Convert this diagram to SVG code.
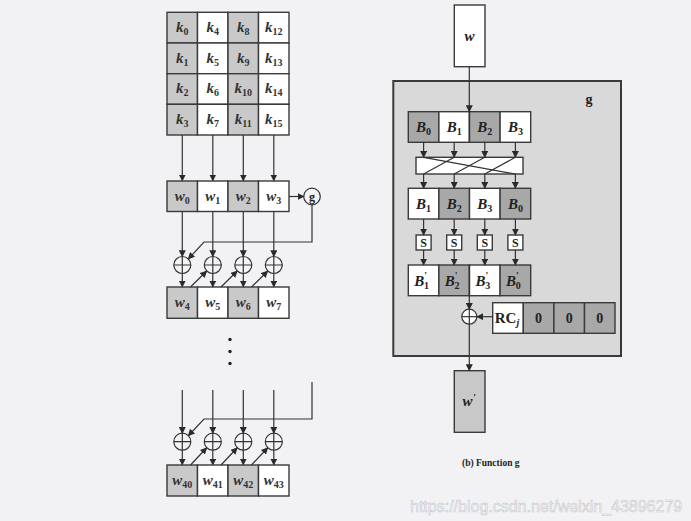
<svg xmlns="http://www.w3.org/2000/svg" width="691" height="521" viewBox="0 0 691 521">
<defs>
<marker id="ah" markerWidth="7" markerHeight="7" refX="6" refY="3.5" orient="auto" markerUnits="userSpaceOnUse">
<path d="M0,0 L7,3.5 L0,7 Z" fill="#2a2a2a"/>
</marker>
<style>
.cell{stroke:#3a3a3a;stroke-width:1.4}
.lg{fill:#c9c9c9}
.dg{fill:#a8a8a8}
.wh{fill:#ffffff}
.ln{stroke:#333;stroke-width:1.2;fill:none}
.ar{stroke:#333;stroke-width:1.2;fill:none;marker-end:url(#ah)}
.xor{stroke:#333;stroke-width:1.2;fill:#f4f4f6}
.t{font-family:"Liberation Serif",serif;font-size:15px;font-style:italic;font-weight:bold;fill:#333;text-anchor:middle}
.tb{font-family:"Liberation Serif",serif;font-size:15px;font-style:italic;font-weight:bold;fill:#222;text-anchor:middle}
.sub{font-style:normal;font-size:10px}
.s{font-family:"Liberation Serif",serif;font-size:12px;font-weight:bold;fill:#222;text-anchor:middle}
</style>
</defs>
<rect x="0" y="0" width="691" height="521" fill="#f2f2f4"/>

<!-- Key grid -->
<g id="keygrid">
<rect class="cell lg" x="167" y="12.3" width="30.5" height="30.7"/>
<rect class="cell wh" x="197.5" y="12.3" width="30.5" height="30.7"/>
<rect class="cell lg" x="228" y="12.3" width="30.5" height="30.7"/>
<rect class="cell wh" x="258.5" y="12.3" width="30.5" height="30.7"/>
<rect class="cell lg" x="167" y="43" width="30.5" height="30.7"/>
<rect class="cell wh" x="197.5" y="43" width="30.5" height="30.7"/>
<rect class="cell lg" x="228" y="43" width="30.5" height="30.7"/>
<rect class="cell wh" x="258.5" y="43" width="30.5" height="30.7"/>
<rect class="cell lg" x="167" y="73.7" width="30.5" height="30.6"/>
<rect class="cell wh" x="197.5" y="73.7" width="30.5" height="30.6"/>
<rect class="cell lg" x="228" y="73.7" width="30.5" height="30.6"/>
<rect class="cell wh" x="258.5" y="73.7" width="30.5" height="30.6"/>
<rect class="cell lg" x="167" y="104.3" width="30.5" height="30.7"/>
<rect class="cell wh" x="197.5" y="104.3" width="30.5" height="30.7"/>
<rect class="cell lg" x="228" y="104.3" width="30.5" height="30.7"/>
<rect class="cell wh" x="258.5" y="104.3" width="30.5" height="30.7"/>
<text class="t" x="182.3" y="32">k<tspan class="sub" dy="3">0</tspan></text>
<text class="t" x="212.8" y="32">k<tspan class="sub" dy="3">4</tspan></text>
<text class="t" x="243.3" y="32">k<tspan class="sub" dy="3">8</tspan></text>
<text class="t" x="273.8" y="32">k<tspan class="sub" dy="3">12</tspan></text>
<text class="t" x="182.3" y="62.5">k<tspan class="sub" dy="3">1</tspan></text>
<text class="t" x="212.8" y="62.5">k<tspan class="sub" dy="3">5</tspan></text>
<text class="t" x="243.3" y="62.5">k<tspan class="sub" dy="3">9</tspan></text>
<text class="t" x="273.8" y="62.5">k<tspan class="sub" dy="3">13</tspan></text>
<text class="t" x="182.3" y="93">k<tspan class="sub" dy="3">2</tspan></text>
<text class="t" x="212.8" y="93">k<tspan class="sub" dy="3">6</tspan></text>
<text class="t" x="243.3" y="93">k<tspan class="sub" dy="3">10</tspan></text>
<text class="t" x="273.8" y="93">k<tspan class="sub" dy="3">14</tspan></text>
<text class="t" x="182.3" y="123.5">k<tspan class="sub" dy="3">3</tspan></text>
<text class="t" x="212.8" y="123.5">k<tspan class="sub" dy="3">7</tspan></text>
<text class="t" x="243.3" y="123.5">k<tspan class="sub" dy="3">11</tspan></text>
<text class="t" x="273.8" y="123.5">k<tspan class="sub" dy="3">15</tspan></text>
</g>

<g id="wrow0">
<rect class="cell lg" x="167" y="181" width="30.5" height="30.5"/>
<rect class="cell wh" x="197.5" y="181" width="30.5" height="30.5"/>
<rect class="cell lg" x="228" y="181" width="30.5" height="30.5"/>
<rect class="cell wh" x="258.5" y="181" width="30.5" height="30.5"/>
<text class="t" x="182.3" y="200.5">w<tspan class="sub" dy="3">0</tspan></text>
<text class="t" x="212.8" y="200.5">w<tspan class="sub" dy="3">1</tspan></text>
<text class="t" x="243.3" y="200.5">w<tspan class="sub" dy="3">2</tspan></text>
<text class="t" x="273.8" y="200.5">w<tspan class="sub" dy="3">3</tspan></text>
</g>

<g id="gcircle">
<circle class="xor" cx="312" cy="196.5" r="8.3"/>
<text class="s" x="312" y="200.5" style="font-size:12px">g</text>
</g>

<g id="xors1">
<g><circle class="xor" cx="182.3" cy="265" r="8.5"/><path class="ln" d="M173.8,265 H190.8 M182.3,256.5 V273.5"/></g>
<g><circle class="xor" cx="212.8" cy="265" r="8.5"/><path class="ln" d="M204.3,265 H221.3 M212.8,256.5 V273.5"/></g>
<g><circle class="xor" cx="243.3" cy="265" r="8.5"/><path class="ln" d="M234.8,265 H251.8 M243.3,256.5 V273.5"/></g>
<g><circle class="xor" cx="273.8" cy="265" r="8.5"/><path class="ln" d="M265.3,265 H282.3 M273.8,256.5 V273.5"/></g>
</g>

<g id="wrow1">
<rect class="cell lg" x="167" y="287" width="30.5" height="31.3"/>
<rect class="cell wh" x="197.5" y="287" width="30.5" height="31.3"/>
<rect class="cell lg" x="228" y="287" width="30.5" height="31.3"/>
<rect class="cell wh" x="258.5" y="287" width="30.5" height="31.3"/>
<text class="t" x="182.3" y="306.5">w<tspan class="sub" dy="3">4</tspan></text>
<text class="t" x="212.8" y="306.5">w<tspan class="sub" dy="3">5</tspan></text>
<text class="t" x="243.3" y="306.5">w<tspan class="sub" dy="3">6</tspan></text>
<text class="t" x="273.8" y="306.5">w<tspan class="sub" dy="3">7</tspan></text>
</g>

<g id="dots" fill="#222">
<circle cx="230" cy="339.5" r="1.7"/>
<circle cx="230" cy="351.5" r="1.7"/>
<circle cx="230" cy="363.5" r="1.7"/>
</g>

<g id="xors2">
<g><circle class="xor" cx="182.3" cy="441.7" r="8.5"/><path class="ln" d="M173.8,441.7 H190.8 M182.3,433.2 V450.2"/></g>
<g><circle class="xor" cx="212.8" cy="441.7" r="8.5"/><path class="ln" d="M204.3,441.7 H221.3 M212.8,433.2 V450.2"/></g>
<g><circle class="xor" cx="243.3" cy="441.7" r="8.5"/><path class="ln" d="M234.8,441.7 H251.8 M243.3,433.2 V450.2"/></g>
<g><circle class="xor" cx="273.8" cy="441.7" r="8.5"/><path class="ln" d="M265.3,441.7 H282.3 M273.8,433.2 V450.2"/></g>
</g>

<g id="wrow10">
<rect class="cell lg" x="167" y="465" width="30.5" height="31"/>
<rect class="cell wh" x="197.5" y="465" width="30.5" height="31"/>
<rect class="cell lg" x="228" y="465" width="30.5" height="31"/>
<rect class="cell wh" x="258.5" y="465" width="30.5" height="31"/>
<text class="t" x="182.3" y="484.5">w<tspan class="sub" dy="3">40</tspan></text>
<text class="t" x="212.8" y="484.5">w<tspan class="sub" dy="3">41</tspan></text>
<text class="t" x="243.3" y="484.5">w<tspan class="sub" dy="3">42</tspan></text>
<text class="t" x="273.8" y="484.5">w<tspan class="sub" dy="3">43</tspan></text>
</g>

<!-- Function g -->
<g id="wbox">
<rect class="cell wh" x="454.3" y="5" width="30.7" height="61.7"/>
<text class="tb" x="469.6" y="41">w</text>
</g>

<g id="gbox">
<rect x="393.3" y="81" width="227.7" height="275" fill="#d9d9d9" stroke="#3a3a3a" stroke-width="2"/>
<text class="s" x="589" y="104" style="font-size:14px">g</text>
</g>

<g id="brow1">
<rect class="cell dg" x="408.3" y="111.7" width="30.6" height="30.6"/>
<rect class="cell wh" x="438.9" y="111.7" width="30.6" height="30.6"/>
<rect class="cell dg" x="469.5" y="111.7" width="30.6" height="30.6"/>
<rect class="cell wh" x="500.1" y="111.7" width="30.6" height="30.6"/>
<text class="tb" x="423.6" y="132">B<tspan class="sub" dy="3">0</tspan></text>
<text class="tb" x="454.2" y="132">B<tspan class="sub" dy="3">1</tspan></text>
<text class="tb" x="484.8" y="132">B<tspan class="sub" dy="3">2</tspan></text>
<text class="tb" x="515.4" y="132">B<tspan class="sub" dy="3">3</tspan></text>
</g>

<g id="shift">
<rect x="416" y="157.3" width="107" height="16.7" fill="#ffffff" stroke="#3a3a3a" stroke-width="1.4"/>
<path class="ln" d="M423.6,157.3 L515.4,174 M454.2,157.3 L423.6,174 M484.8,157.3 L454.2,174 M515.4,157.3 L484.8,174"/>
</g>

<g id="brow2">
<rect class="cell wh" x="408.3" y="188.3" width="30.6" height="30.7"/>
<rect class="cell dg" x="438.9" y="188.3" width="30.6" height="30.7"/>
<rect class="cell wh" x="469.5" y="188.3" width="30.6" height="30.7"/>
<rect class="cell dg" x="500.1" y="188.3" width="30.6" height="30.7"/>
<text class="tb" x="423.6" y="208.5">B<tspan class="sub" dy="3">1</tspan></text>
<text class="tb" x="454.2" y="208.5">B<tspan class="sub" dy="3">2</tspan></text>
<text class="tb" x="484.8" y="208.5">B<tspan class="sub" dy="3">3</tspan></text>
<text class="tb" x="515.4" y="208.5">B<tspan class="sub" dy="3">0</tspan></text>
</g>

<g id="sboxes">
<rect class="cell wh" x="416.1" y="235" width="15" height="15"/>
<rect class="cell wh" x="446.7" y="235" width="15" height="15"/>
<rect class="cell wh" x="477.3" y="235" width="15" height="15"/>
<rect class="cell wh" x="507.9" y="235" width="15" height="15"/>
<text class="s" x="423.6" y="246.5">S</text>
<text class="s" x="454.2" y="246.5">S</text>
<text class="s" x="484.8" y="246.5">S</text>
<text class="s" x="515.4" y="246.5">S</text>
</g>

<g id="brow3">
<rect class="cell wh" x="408.3" y="265" width="30.6" height="30.7"/>
<rect class="cell dg" x="438.9" y="265" width="30.6" height="30.7"/>
<rect class="cell wh" x="469.5" y="265" width="30.6" height="30.7"/>
<rect class="cell dg" x="500.1" y="265" width="30.6" height="30.7"/>
<text class="tb" x="421.6" y="285.5">B<tspan class="sub" dy="-7" font-size="8">'</tspan><tspan class="sub" dx="-3" dy="10">1</tspan></text>
<text class="tb" x="452.2" y="285.5">B<tspan class="sub" dy="-7" font-size="8">'</tspan><tspan class="sub" dx="-3" dy="10">2</tspan></text>
<text class="tb" x="482.8" y="285.5">B<tspan class="sub" dy="-7" font-size="8">'</tspan><tspan class="sub" dx="-3" dy="10">3</tspan></text>
<text class="tb" x="513.4" y="285.5">B<tspan class="sub" dy="-7" font-size="8">'</tspan><tspan class="sub" dx="-3" dy="10">0</tspan></text>
</g>

<g id="gxor">
<circle cx="469.3" cy="316.7" r="7.5" fill="#ffffff" stroke="#333" stroke-width="1.2"/>
<path class="ln" d="M461.8,316.7 H476.8"/>
</g>

<g id="rcbox">
<rect class="cell wh" x="492.7" y="302.7" width="30.6" height="30.6"/>
<rect class="cell dg" x="523.3" y="302.7" width="30.6" height="30.6"/>
<rect class="cell dg" x="553.9" y="302.7" width="30.6" height="30.6"/>
<rect class="cell dg" x="584.5" y="302.7" width="30.5" height="30.6"/>
<text class="s" x="507" y="322.5" style="font-size:15px">RC<tspan font-size="10" font-style="italic" dy="3">j</tspan></text>
<text class="s" x="538.6" y="322.5" style="font-size:14px">0</text>
<text class="s" x="569.2" y="322.5" style="font-size:14px">0</text>
<text class="s" x="599.8" y="322.5" style="font-size:14px">0</text>
</g>

<g id="wprime">
<rect x="454.3" y="370.7" width="30.7" height="61.6" fill="#c8c8c8" stroke="#3a3a3a" stroke-width="1.4"/>
<text class="tb" x="469" y="406">w<tspan font-size="11" dy="-5">'</tspan></text>
</g>

<g id="caption">
<text x="462" y="466" style="font-family:'Liberation Serif',serif;font-size:9.5px;font-weight:bold;fill:#222">(b) Function g</text>
</g>

<g id="connectors">
<line class="ar" x1="182.3" y1="135" x2="182.3" y2="180.5"/>
<line class="ar" x1="212.8" y1="135" x2="212.8" y2="180.5"/>
<line class="ar" x1="243.3" y1="135" x2="243.3" y2="180.5"/>
<line class="ar" x1="273.8" y1="135" x2="273.8" y2="180.5"/>
<line class="ar" x1="289" y1="196.5" x2="303.5" y2="196.5"/>
<line class="ar" x1="182.3" y1="211.5" x2="182.3" y2="256.3"/>
<line class="ar" x1="212.8" y1="211.5" x2="212.8" y2="256.3"/>
<line class="ar" x1="243.3" y1="211.5" x2="243.3" y2="256.3"/>
<line class="ar" x1="273.8" y1="211.5" x2="273.8" y2="256.3"/>
<polyline class="ar" points="312,204.8 312,242 204,242 188.5,258.8"/>
<line class="ar" x1="182.3" y1="273.5" x2="182.3" y2="286.6"/>
<line class="ar" x1="212.8" y1="273.5" x2="212.8" y2="286.6"/>
<line class="ar" x1="243.3" y1="273.5" x2="243.3" y2="286.6"/>
<line class="ar" x1="273.8" y1="273.5" x2="273.8" y2="286.6"/>
<line class="ar" x1="190.5" y1="287" x2="206.5" y2="271.3"/>
<line class="ar" x1="221" y1="287" x2="237" y2="271.3"/>
<line class="ar" x1="251.5" y1="287" x2="267.5" y2="271.3"/>
<line class="ar" x1="182.3" y1="390" x2="182.3" y2="433"/>
<line class="ar" x1="212.8" y1="390" x2="212.8" y2="433"/>
<line class="ar" x1="243.3" y1="390" x2="243.3" y2="433"/>
<line class="ar" x1="273.8" y1="390" x2="273.8" y2="433"/>
<polyline class="ar" points="312,382 312,419 204,419 188.5,435.5"/>
<line class="ar" x1="182.3" y1="450.2" x2="182.3" y2="464.6"/>
<line class="ar" x1="212.8" y1="450.2" x2="212.8" y2="464.6"/>
<line class="ar" x1="243.3" y1="450.2" x2="243.3" y2="464.6"/>
<line class="ar" x1="273.8" y1="450.2" x2="273.8" y2="464.6"/>
<line class="ar" x1="190.5" y1="465" x2="206.5" y2="448"/>
<line class="ar" x1="221" y1="465" x2="237" y2="448"/>
<line class="ar" x1="251.5" y1="465" x2="267.5" y2="448"/>
<line class="ar" x1="469.3" y1="66.7" x2="469.3" y2="111.3"/>
<line class="ln" x1="469.3" y1="111.7" x2="469.3" y2="142.3"/>
<line class="ar" x1="423.6" y1="142.3" x2="423.6" y2="157"/>
<line class="ar" x1="454.2" y1="142.3" x2="454.2" y2="157"/>
<line class="ar" x1="484.8" y1="142.3" x2="484.8" y2="157"/>
<line class="ar" x1="515.4" y1="142.3" x2="515.4" y2="157"/>
<line class="ar" x1="423.6" y1="174" x2="423.6" y2="188"/>
<line class="ar" x1="454.2" y1="174" x2="454.2" y2="188"/>
<line class="ar" x1="484.8" y1="174" x2="484.8" y2="188"/>
<line class="ar" x1="515.4" y1="174" x2="515.4" y2="188"/>
<line class="ar" x1="423.6" y1="219" x2="423.6" y2="234.7"/>
<line class="ar" x1="454.2" y1="219" x2="454.2" y2="234.7"/>
<line class="ar" x1="484.8" y1="219" x2="484.8" y2="234.7"/>
<line class="ar" x1="515.4" y1="219" x2="515.4" y2="234.7"/>
<line class="ar" x1="423.6" y1="250" x2="423.6" y2="264.7"/>
<line class="ar" x1="454.2" y1="250" x2="454.2" y2="264.7"/>
<line class="ar" x1="484.8" y1="250" x2="484.8" y2="264.7"/>
<line class="ar" x1="515.4" y1="250" x2="515.4" y2="264.7"/>
<line class="ln" x1="469.3" y1="265" x2="469.3" y2="295.7"/>
<line class="ar" x1="469.3" y1="295.7" x2="469.3" y2="309"/>
<line class="ln" x1="469.3" y1="309.2" x2="469.3" y2="324.2"/>
<line class="ar" x1="492.7" y1="316.7" x2="477.2" y2="316.7"/>
<line class="ar" x1="469.3" y1="324.2" x2="469.3" y2="370.3"/>
</g>

<text x="410" y="512" style="font-family:'Liberation Sans',sans-serif;font-size:16px;fill:#f4f4f6;stroke:#c4c4c8;stroke-width:0.5">https://blog.csdn.net/weixin_43896279</text>
</svg>
